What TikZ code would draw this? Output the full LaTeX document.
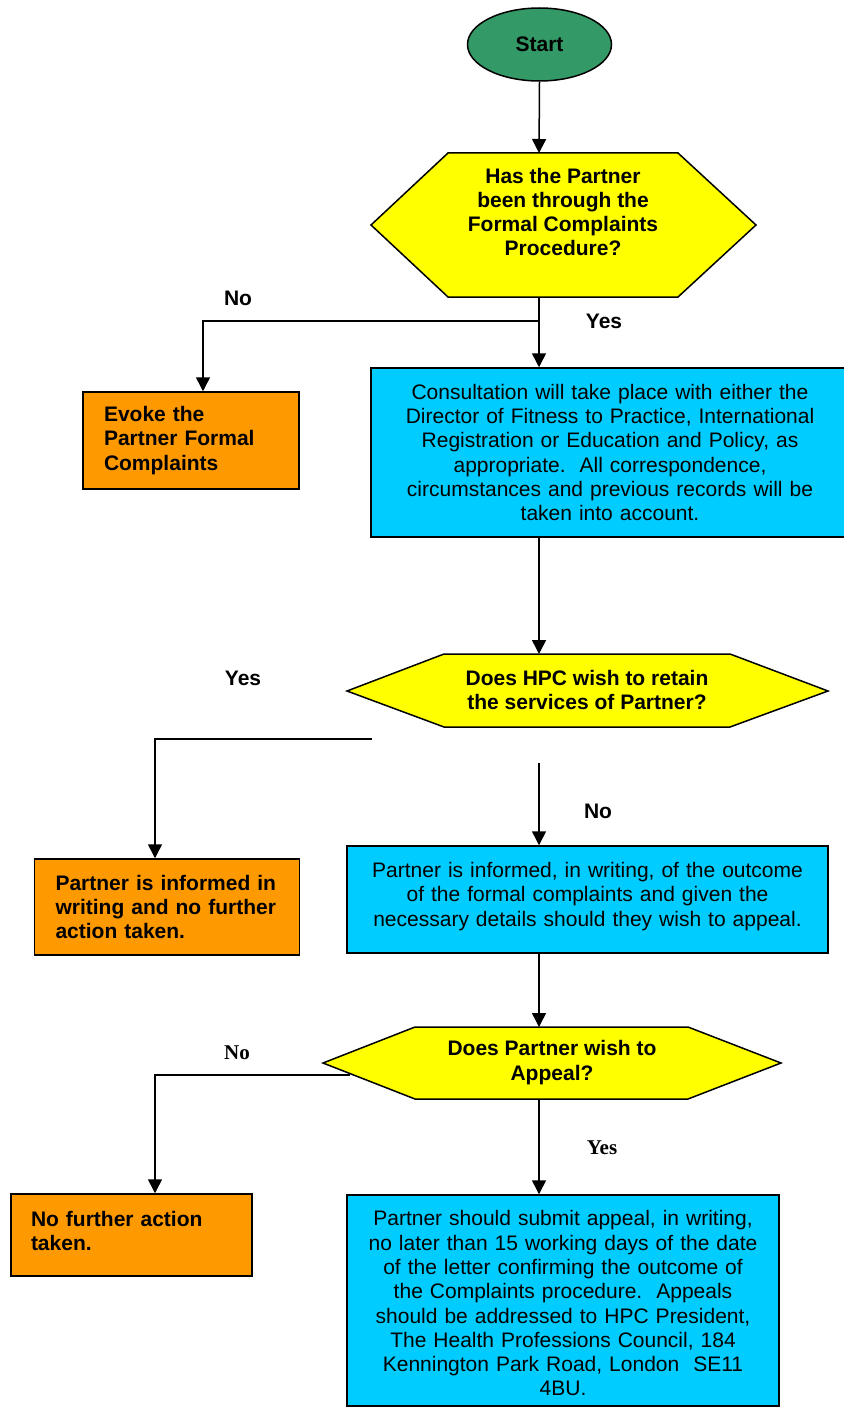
\documentclass[tikz,border=0pt]{standalone}
\usepackage{fontspec}
\setmainfont{Liberation Sans}
\newfontfamily\timesfont{Liberation Serif}
\usetikzlibrary{shapes.geometric,arrows.meta,positioning}

\definecolor{startgreen}{RGB}{51,153,102}
\definecolor{askyellow}{RGB}{255,255,0}
\definecolor{actionblue}{RGB}{0,204,255}
\definecolor{endorange}{RGB}{255,153,0}

\tikzset{
  flowline/.style={line width=1.5pt},
  flowarrow/.style={flowline,-{Triangle[length=14pt,width=14pt]}},
  startnode/.style={ellipse,draw,line width=1.5pt,fill=startgreen,minimum width=144pt,minimum height=73pt,font=\bfseries\fontsize{21}{24.3}\selectfont},
  decision/.style={draw,line width=1.5pt,fill=askyellow},
  asktext/.style={font=\bfseries\fontsize{21}{24.3}\selectfont,align=center},
  actionbox/.style={rectangle,draw,line width=1.5pt,fill=actionblue,font=\fontsize{21}{24.3}\selectfont,align=center,inner sep=0pt},
  endbox/.style={rectangle,draw,line width=1.5pt,fill=endorange,font=\bfseries\fontsize{21}{24.3}\selectfont,align=left,inner xsep=21pt,inner ysep=0pt},
  answer/.style={font=\bfseries\fontsize{21}{24.3}\selectfont},
  answerserif/.style={font=\timesfont\bfseries\fontsize{21}{24.3}\selectfont}
}

\begin{document}
\begin{tikzpicture}[x=1pt,y=-1pt]
\useasboundingbox (0,0) rectangle (843,1407);

\node[startnode] (start) at (539.5,44.5) {Start};

% first question
\draw[decision] (371,225) -- (448,153) -- (678,153) -- (756,225) -- (678,297) -- (448,297) -- cycle;
\node[asktext] (partnerq) at (563,212) {Has the Partner\\been through the\\Formal Complaints\\Procedure?};
\coordinate (partnerqN) at (539,153);
\coordinate (partnerqS) at (539,297);
\coordinate (split1) at (539,321);

\node[endbox,minimum width=216pt,minimum height=97pt,text width=174pt] (evoke) at (191,440.5)
  {Evoke the\\Partner Formal\\Complaints};
\node[actionbox,minimum width=478pt,minimum height=169pt,text width=440pt] (consult) at (610,452.5)
  {Consultation will take place with either the\\Director of Fitness to Practice, International\\Registration or Education and Policy, as\\appropriate.\ \ All correspondence,\\circumstances and previous records will be\\taken into account.};

\node[answer] (no1) at (238,298) {No};
\node[answer] (yes1) at (604,321) {Yes};

% second question
\draw[decision] (347,691) -- (444,654) -- (730,654) -- (828,691) -- (730,727) -- (444,727) -- cycle;
\node[asktext] (retainq) at (587,690) {Does HPC wish to retain\\the services of Partner?};
\coordinate (retainqN) at (539,654);
\coordinate (yesfree) at (372,739);
\coordinate (nofree) at (539,763);

\node[answer] (yes2) at (243,678) {Yes};
\node[answer] (no2) at (598,811) {No};

\node[endbox,minimum width=265pt,minimum height=96pt,text width=223pt] (informed) at (167,907)
  {Partner is informed in\\writing and no further\\action taken.};
\node[actionbox,minimum width=481pt,minimum height=107pt,text width=450pt,text depth=59pt] (outcome) at (587.5,899.5)
  {Partner is informed, in writing, of the outcome\\of the formal complaints and given the\\necessary details should they wish to appeal.};

% third question
\draw[decision] (323,1063) -- (415,1027) -- (688,1027) -- (781,1063) -- (688,1099) -- (415,1099) -- cycle;
\node[asktext] (appealq) at (552,1062.5) {Does Partner wish to\\Appeal?};
\coordinate (appealqN) at (539,1027);
\coordinate (appealqS) at (539,1099);
\coordinate (appealqW) at (350,1075);

\node[answerserif] (no3) at (237,1053) {No};
\node[answerserif] (yes3) at (602,1148) {Yes};

\node[endbox,minimum width=241pt,minimum height=82pt,text width=201pt,inner xsep=20pt,text depth=32pt] (nofurther) at (131.5,1235)
  {No further action\\taken.};
\node[actionbox,minimum width=432pt,minimum height=211pt,text width=420pt,text height=21pt] (submit) at (563,1300.5)
  {Partner should submit appeal, in writing,\\no later than 15 working days of the date\\of the letter confirming the outcome of\\the Complaints procedure.\ \ Appeals\\should be addressed to HPC President,\\The Health Professions Council, 184\\Kennington Park Road, London\ \ SE11\\4BU.};

% connectors
\draw[flowarrow] (start.south) -- (partnerqN);
\draw[flowarrow] (partnerqS) -- (consult.north -| partnerqS);
\draw[flowarrow] (split1) -| ([xshift=12pt]evoke.north);
\draw[flowarrow] (consult.south -| partnerqS) -- (retainqN);
\draw[flowarrow] (yesfree) -| ([xshift=-12pt]informed.north);
\draw[flowarrow] (nofree) -- (outcome.north -| nofree);
\draw[flowarrow] (outcome.south -| nofree) -- (appealqN);
\draw[flowarrow] (appealqW) -| ([xshift=23.5pt]nofurther.north);
\draw[flowarrow] (appealqS) -- (submit.north -| appealqS);
\end{tikzpicture}
\end{document}
